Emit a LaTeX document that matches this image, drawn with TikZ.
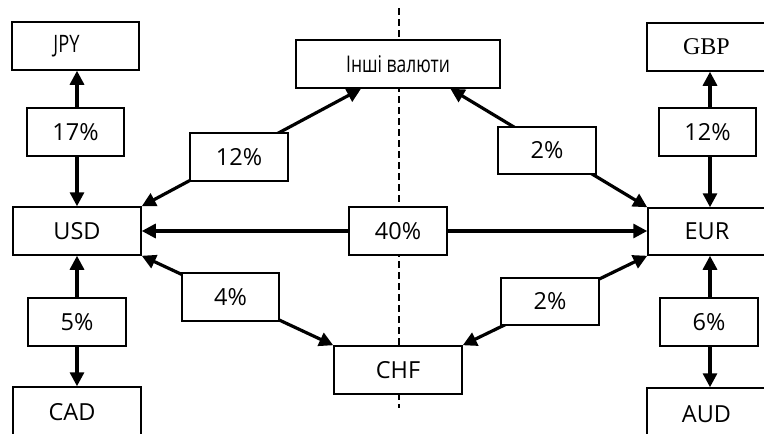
\documentclass[tikz,border=0pt]{standalone}
\usepackage{fontspec}
\usetikzlibrary{arrows.meta,calc}
\newfontfamily\osans{Open Sans}
\newfontfamily\cond[FakeStretch=0.76]{Open Sans}
\newfontfamily\tms{Liberation Serif}
\tikzset{
  box/.style={draw, line width=1.5pt, fill=white, inner sep=0pt, font=\osans\fontsize{23.5}{23.5}\selectfont},
  arr/.style={line width=3.2pt, {Triangle[length=14pt,width=14pt]}-{Triangle[length=14pt,width=14pt]}},
  divider/.style={line width=2.4pt, dash pattern=on 7pt off 4pt}
}
\begin{document}
\begin{tikzpicture}[x=1pt,y=-1pt]
\useasboundingbox (0,0) rectangle (764,434);
\clip (0,0) rectangle (764,434);
\coordinate (dtop) at (399,8);
\coordinate (dbot) at (399,408);
\coordinate (lx) at (77,0);
\coordinate (rx) at (710,0);
\draw[divider] (dtop) -- (dbot);
% main nodes
\node[box, minimum width=127pt, minimum height=48pt] (jpy) at (75.5,46) {\cond\fontsize{24}{24}\selectfont\hspace*{-18pt}JPY};
\node[box, minimum width=128pt, minimum height=48pt] (usd) at (77,231) {USD};
\node[box, minimum width=128pt, minimum height=50pt] (cad) at (77,412) {\hspace*{-10pt}CAD};
\node[box, minimum width=204pt, minimum height=48pt] (inshi) at (398,64) {\cond\fontsize{23}{23}\selectfont Інші валюти};
\node[box, minimum width=128pt, minimum height=48pt] (chf) at (398,370) {CHF};
\node[box, minimum width=119pt, minimum height=48pt] (gbp) at (706.5,47) {\tms\fontsize{24}{24}\selectfont GBP};
\node[box, minimum width=118pt, minimum height=47pt] (eur) at (707,231.5) {EUR};
\node[box, minimum width=119pt, minimum height=52pt] (aud) at (706.5,414) {AUD};
% connectors
\draw[arr] (lx |- jpy.south) -- (lx |- usd.north);
\draw[arr] (lx |- usd.south) -- (lx |- cad.north);
\draw[arr] (rx |- gbp.south) -- (rx |- eur.north);
\draw[arr] (rx |- eur.south) -- (rx |- aud.north);
\draw[arr] (usd.east) -- (usd.east -| eur.west);
\draw[arr] (usd.north east) -- ($(inshi.south west)!0.32!(inshi.south east)$);
\draw[arr] ($(inshi.south west)!0.755!(inshi.south east)$) -- (eur.north west);
\draw[arr] (usd.south east) -- (chf.north west);
\draw[arr] (chf.north east) -- (eur.south west);
% labels
\node[box, minimum width=97pt, minimum height=48pt] (p17) at (75.5,132) {17\%};
\node[box, minimum width=98pt, minimum height=48pt] (p5) at (77,322) {5\%};
\node[box, minimum width=98pt, minimum height=48pt] (p12l) at (239,157) {12\%};
\node[box, minimum width=98pt, minimum height=47pt] (p2t) at (547,150.5) {2\%};
\node[box, minimum width=98pt, minimum height=48pt] (p40) at (398,231) {40\%};
\node[box, minimum width=97pt, minimum height=48pt] (p4) at (230.5,297) {4\%};
\node[box, minimum width=98pt, minimum height=47pt] (p2b) at (550,301.5) {2\%};
\node[box, minimum width=97pt, minimum height=48pt] (p12r) at (707.5,132) {12\%};
\node[box, minimum width=98pt, minimum height=48pt] (p6) at (709,322) {6\%};
\end{tikzpicture}
\end{document}
